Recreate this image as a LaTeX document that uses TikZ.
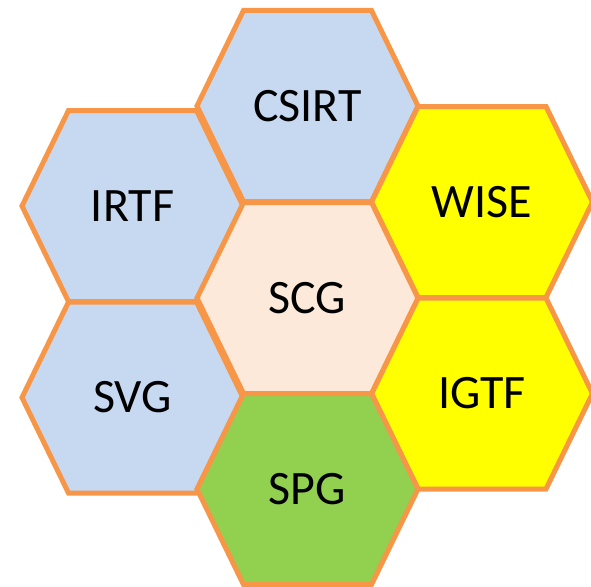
\documentclass[tikz,border=0pt]{standalone}
\usepackage{fontspec}
\setmainfont{Carlito}
\usetikzlibrary{calc}
\definecolor{hexline}{HTML}{F79646}
\definecolor{hexblue}{HTML}{C6D9F1}
\definecolor{hexpeach}{HTML}{FDE9D9}
\definecolor{hexyellow}{HTML}{FFFF00}
\definecolor{hexgreen}{HTML}{92D050}

\begin{document}
\begin{tikzpicture}[x=1pt,y=-1pt,
    cell/.style={draw=hexline,line width=5pt,line join=miter},
    lbl/.style={font=\fontsize{48}{54}\selectfont,text=black}]
\useasboundingbox (0,0) rectangle (591,586);
% hexagon cells: centre x/centre y/fill/name/label
\foreach \cx/\cy/\col/\nm/\txt in {
    307.5/106/hexblue/csirt/CSIRT,
    132.5/206/hexblue/irtf/IRTF,
    482/202/hexyellow/wise/WISE,
    132.5/397.5/hexblue/svg/SVG,
    482/393.5/hexyellow/igtf/IGTF,
    307.5/298/hexpeach/scg/SCG,
    307.5/489/hexgreen/spg/SPG}{
  \draw[cell,fill=\col] (\cx,\cy) +(-110.5,0) -- +(-64,-95.5) -- +(64,-95.5)
      -- +(110.5,0) -- +(64,95.5) -- +(-64,95.5) -- cycle;
  \node[lbl] (\nm) at (\cx,\cy) {\txt};
}
\end{tikzpicture}
\end{document}
